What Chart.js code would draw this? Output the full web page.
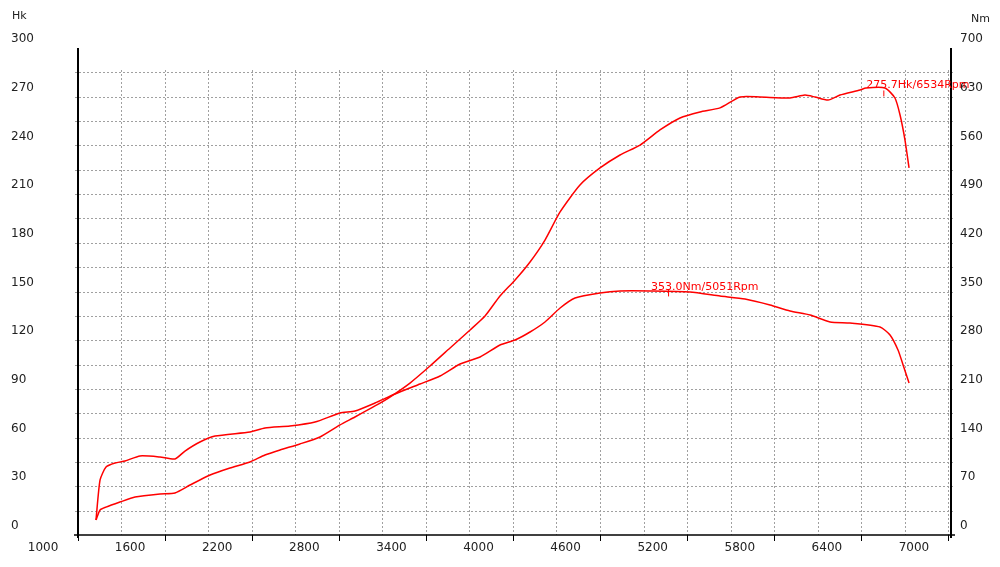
<!DOCTYPE html>
<html><head><meta charset="utf-8">
<script src="https://cdn.jsdelivr.net/npm/chart.js@4/dist/chart.umd.min.js"></script>
<style>html,body{margin:0;padding:0;background:#fff}#w{width:1000px;height:567px}</style>
</head><body><div id="w"><canvas id="c"></canvas></div>
<script>
const powerRpm=[1365,1393,1434,1530,1634,1806,1909,2013,2151,2288,2426,2529,2633,2770,2908,3046,3149,3287,3390,3528,3666,3804,3942,4045,4148,4252,4355,4458,4562,4699,4837,4975,5113,5250,5388,5526,5664,5802,5939,6146,6249,6318,6408,6490,6628,6669,6800,6869,6904,6938,6966];
const powerHk=[9.2,15.4,17.2,20.3,23.4,25.3,25.9,30.8,37.0,41.3,45.0,49.3,52.4,56.1,60.4,67.8,72.7,79.5,85.0,93.6,104.1,115.2,126.3,134.9,147.2,157.1,168.2,181.7,199.0,215.6,226.1,234.1,240.2,249.5,256.9,260.6,263.1,269.8,269.8,269.2,271.0,269.8,267.9,271.0,274.1,275.4,275.4,269.2,258.7,243.3,226.1];
const torqueRpm=[1365,1393,1434,1496,1565,1668,1806,1909,1978,2081,2185,2426,2529,2701,2874,3046,3149,3287,3425,3597,3735,3873,4011,4148,4252,4355,4458,4562,4665,4837,4975,5182,5457,5664,5836,6008,6146,6284,6422,6559,6766,6835,6890,6925,6966];
const torqueNm=[21.6,79.1,97.7,103.5,106.4,113.6,112.1,109.2,120.7,133.7,142.3,148.1,153.8,156.7,162.4,175.4,178.2,189.7,202.7,217.0,228.5,245.8,255.9,273.1,280.3,291.8,306.2,326.3,340.7,347.9,350.7,350.7,349.3,343.5,339.2,330.6,322.0,316.2,306.2,304.7,299.0,287.5,265.9,244.4,218.5];
const xLabels=[1000,1600,2200,2800,3400,4000,4600,5200,5800,6400,7000];
const hkLabels=[0,30,60,90,120,150,180,210,240,270,300];
const nmLabels=[0,70,140,210,280,350,420,490,560,630,700];
const peakPower={rpm:6534,hk:275.7,text:'275.7Hk/6534Rpm'};
const peakTorque={rpm:5051,nm:353.0,text:'353.0Nm/5051Rpm'};

const deco={id:'deco',
beforeDatasetsDraw(ch){
  const c=ch.ctx,a=ch.chartArea,x=ch.scales.x,y=ch.scales.y,y2=ch.scales.y2;
  c.save();
  c.strokeStyle='#a0a0a0';c.lineWidth=1;c.setLineDash([2,2]);
  for(let v=15;v<300;v+=15){const p=Math.round(y.getPixelForValue(v))+0.5;c.beginPath();c.moveTo(a.left-3,p);c.lineTo(a.right+4,p);c.stroke();}
  for(let v=1537;v<7240;v+=300){const p=Math.round(x.getPixelForValue(v))+0.5;c.beginPath();c.moveTo(p,a.top+22);c.lineTo(p,a.bottom);c.stroke();}
  c.setLineDash([]);c.strokeStyle='#000';c.lineWidth=2;
  c.beginPath();c.moveTo(a.left,a.top);c.lineTo(a.left,a.bottom+3);c.stroke();
  c.beginPath();c.moveTo(a.right,a.top);c.lineTo(a.right,a.bottom+3);c.stroke();
  c.lineWidth=1.5;c.beginPath();c.moveTo(a.left-4,a.bottom);c.lineTo(a.right+4,a.bottom);c.stroke();
  c.lineWidth=1;
  [1241,1837,2437,3037,3637,4237,4837,5437,6037,6637,7237].forEach(v=>{const p=Math.round(x.getPixelForValue(v))+0.5;c.beginPath();c.moveTo(p,a.bottom);c.lineTo(p,a.bottom+6);c.stroke();});
  c.fillStyle='#222';c.font='12px "DejaVu Sans"';c.textBaseline='middle';c.textAlign='left';
  hkLabels.forEach(v=>c.fillText(String(v),11,y.getPixelForValue(v)-9));
  nmLabels.forEach(v=>c.fillText(String(v),960,y2.getPixelForValue(v)-9));
  c.font='11px "DejaVu Sans"';c.fillText('Hk',12,16);c.fillText('Nm',971,19);
  c.font='12px "DejaVu Sans"';c.textAlign='center';
  xLabels.forEach(v=>c.fillText(String(v),x.getPixelForValue(v),548));
  c.restore();
},
afterDatasetsDraw(ch){
  const c=ch.ctx,x=ch.scales.x,y=ch.scales.y,y2=ch.scales.y2;
  c.save();c.fillStyle='#ff0000';c.strokeStyle='#ff0000';c.font='11px "DejaVu Sans"';c.textBaseline='alphabetic';c.textAlign='left';
  let px=x.getPixelForValue(peakPower.rpm),py=y.getPixelForValue(peakPower.hk);
  c.fillText(peakPower.text,px+20,py+1);
  c.beginPath();c.moveTo(px+37.5,py+3);c.lineTo(px+37.5,py+9);c.stroke();
  px=x.getPixelForValue(peakTorque.rpm);py=y2.getPixelForValue(peakTorque.nm);
  c.fillText(peakTorque.text,px+20,py+1);
  c.beginPath();c.moveTo(px+37.5,py);c.lineTo(px+37.5,py+7);c.stroke();
  c.restore();
}};

new Chart(document.getElementById('c'),{
 type:'line',
 data:{datasets:[
  {data:powerRpm.map((r,i)=>({x:r,y:powerHk[i]})),yAxisID:'y',borderColor:'#ff0000',borderWidth:1.5,pointRadius:0,tension:0.2,fill:false},
  {data:torqueRpm.map((r,i)=>({x:r,y:torqueNm[i]})),yAxisID:'y2',borderColor:'#ff0000',borderWidth:1.5,pointRadius:0,tension:0.2,fill:false}
 ]},
 options:{responsive:true,maintainAspectRatio:false,animation:false,
  layout:{padding:{left:78,right:49,top:48,bottom:32}},
  plugins:{legend:{display:false},tooltip:{enabled:false}},
  scales:{
   x:{type:'linear',min:1241,max:7255,display:false},
   y:{min:0,max:300,display:false},
   y2:{min:0,max:700,display:false}
  }},
 plugins:[deco]
});
</script></body></html>
